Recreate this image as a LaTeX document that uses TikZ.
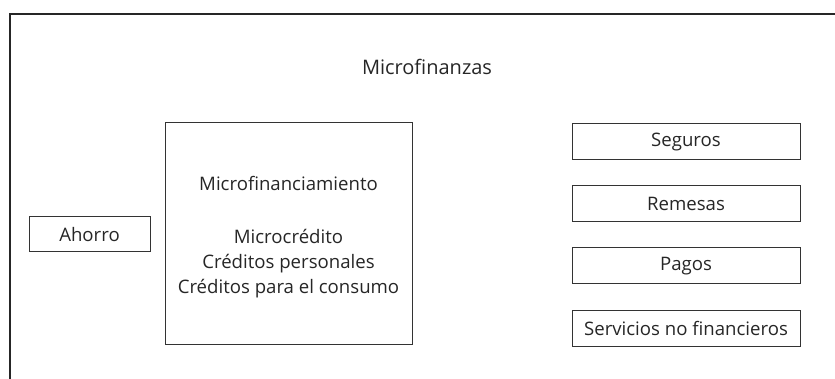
\documentclass[tikz,border=0pt]{standalone}
\usepackage{fontspec}
\setmainfont{Open Sans}
\usetikzlibrary{positioning}

\begin{document}
\begin{tikzpicture}[x=0.5pt, y=-0.5pt,
  sbox/.style={draw=black!80, line width=0.5pt, minimum height=18pt, minimum width=114pt, inner sep=0pt, text=black!85, font=\fontsize{9.3}{12}\selectfont},
  bigbox/.style={draw=black!80, line width=0.5pt, minimum height=110.5pt, minimum width=123.5pt, align=center, text=black!85, font=\fontsize{9.3}{12.5}\selectfont}]
  \useasboundingbox (0,0) rectangle (835,379);
  \clip (0,0) rectangle (835,379);
  % outer frame
  \draw[black!85, line width=1pt] (10,14) rectangle (900,450);
  \node[text=black!85, font=\fontsize{10}{12}\selectfont] (title) at (427,67) {Microfinanzas};
  \node[bigbox] (mf) at (288.5,233.5) {\rule{0pt}{11pt}Microfinanciamiento\\[14pt]Microcrédito\\Créditos personales\\Créditos para el consumo};
  \node[sbox, minimum width=60.5pt, minimum height=17.5pt] (ahorro) at (89.5,234.5) {Ahorro};
  \node[sbox] (seguros) at (686,142) {Seguros};
  \node[sbox, below=12.5pt of seguros] (remesas) {Remesas};
  \node[sbox, below=12.5pt of remesas] (pagos) {Pagos};
  \node[sbox, below=12.5pt of pagos] (servicios) {Servicios no financieros};
\end{tikzpicture}
\end{document}
